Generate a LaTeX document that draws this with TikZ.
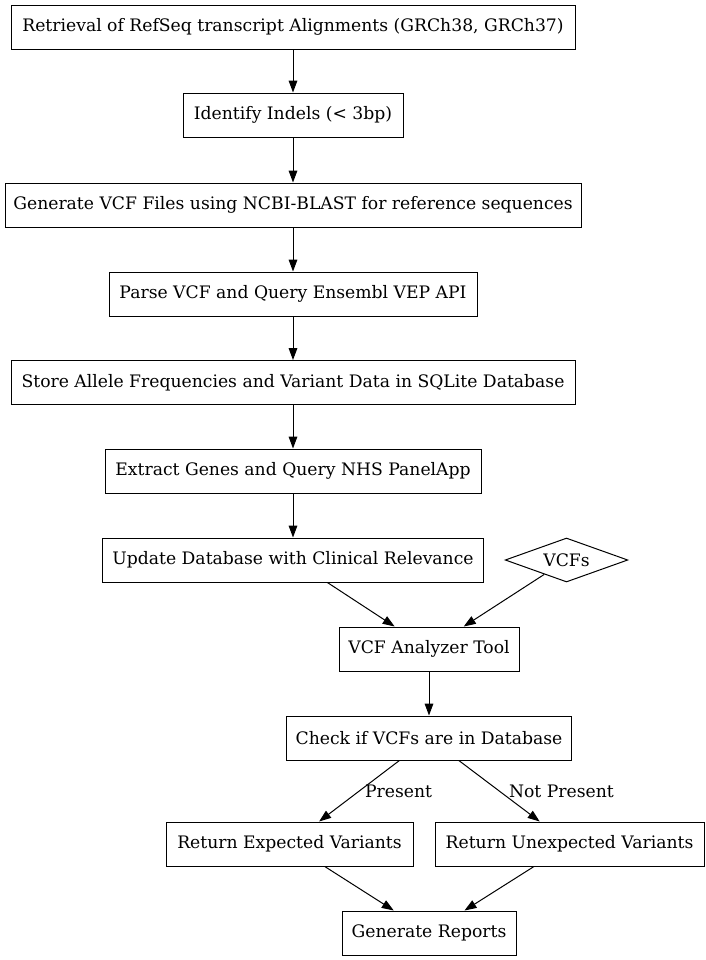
\documentclass[tikz,border=0pt]{standalone}
\usepackage{fontspec}
\setmainfont{DejaVu Serif}
\usetikzlibrary{shapes.geometric,arrows.meta}
\tikzset{
  stepnode/.style={draw, line width=0.75pt, minimum height=33pt, inner xsep=3pt,
    font=\fontsize{12.9}{15}\selectfont},
  datanode/.style={draw, diamond, line width=0.75pt, aspect=2.8, inner sep=0pt,
    minimum width=92pt, minimum height=33pt, font=\fontsize{12.9}{15}\selectfont},
  flow/.style={line width=0.75pt, -{Triangle[length=9pt,width=6.5pt]}},
  edgelabel/.style={font=\fontsize{12.9}{15}\selectfont, inner sep=2pt}
}
\begin{document}
\begin{tikzpicture}[x=0.75pt, y=-0.75pt]
        % Page frame (pixel coordinates)
        \useasboundingbox (0,0) rectangle (706,960);
        % Preparation steps (main column)
        \node[stepnode, minimum width=423pt] (retr) at (293,27) {Retrieval of RefSeq transcript Alignments (GRCh38, GRCh37)};
        \node[stepnode, minimum width=165pt] (indel) at (293,115) {Identify Indels (< 3bp)};
        \node[stepnode, minimum width=432pt] (genvcf) at (293,205) {Generate VCF Files using NCBI-BLAST for reference sequences};
        \node[stepnode, minimum width=276pt] (parse) at (293,294) {Parse VCF and Query Ensembl VEP API};
        \node[stepnode, minimum width=423pt] (store) at (293,382.5) {Store Allele Frequencies and Variant Data in SQLite Database};
        \node[stepnode, minimum width=282pt] (genes) at (293,471) {Extract Genes and Query NHS PanelApp};
        \node[stepnode, minimum width=285.75pt] (update) at (293,560) {Update Database with Clinical Relevance};
        % Input VCFs (diamond)
        \node[datanode] (vcfs) at (566.5,560) {VCFs};
        % Analysis steps
        \node[stepnode, minimum width=135pt] (tool) at (429,649) {VCF Analyzer Tool};
        \node[stepnode, minimum width=213.75pt] (check) at (429,738) {Check if VCFs are in Database};
        \node[stepnode, minimum width=185.25pt] (expd) at (289.5,844) {Return Expected Variants};
        \node[stepnode, minimum width=201.75pt] (unexpd) at (569.5,844) {Return Unexpected Variants};
        \node[stepnode, minimum width=130.5pt] (report) at (429,933) {Generate Reports};
        % Connectors
        \draw[flow] (retr) -- (indel);
        \draw[flow] (indel) -- (genvcf);
        \draw[flow] (genvcf) -- (parse);
        \draw[flow] (parse) -- (store);
        \draw[flow] (store) -- (genes);
        \draw[flow] (genes) -- (update);
        \draw[flow] (update) -- (tool);
        \draw[flow] (vcfs) -- (tool);
        \draw[flow] (tool) -- (check);
        \draw[flow] (check) -- node[edgelabel, right, xshift=2pt] {Present} (expd);
        \draw[flow] (check) -- node[edgelabel, right, xshift=5pt] {Not Present} (unexpd);
        \draw[flow] (expd) -- (report);
        \draw[flow] (unexpd) -- (report);
\end{tikzpicture}
\end{document}
